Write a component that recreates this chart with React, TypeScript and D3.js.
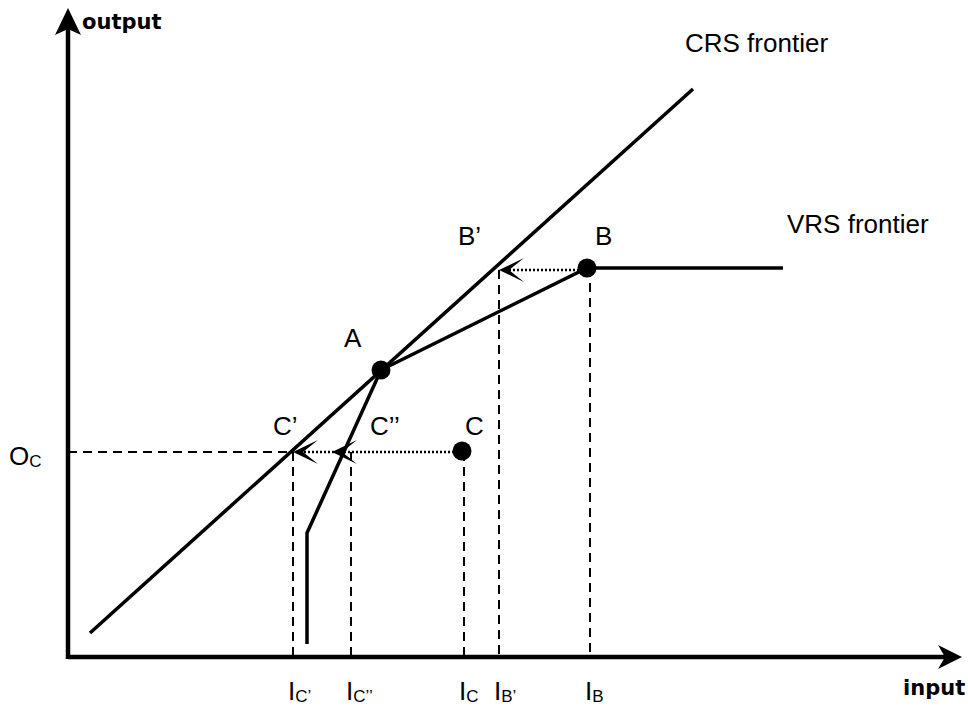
import React from 'react';
import * as d3 from 'd3';

type Pt = [number, number];

// frontier lines (input, output)
const crsFrontier: Pt[] = [[2.2, 2.4], [62.5, 56.8]];
const vrsFrontier: Pt[] = [[23.9, 1.3], [23.9, 12.4], [31.3, 28.7], [51.9, 38.9], [71.5, 38.9]];

// observed units
const unitNames = ['A', 'B', 'C'];
const unitInput = [31.3, 51.9, 39.4];
const unitOutput = [28.7, 38.9, 20.6];

// projection levels
const outputLevelC = 20.5;
const inputLevels = [22.5, 28.3, 39.6, 43.1, 52.2];
const inputLevelTops = [20.5, 20.5, 20.5, 38.7, 38.9];
const inputLevelNames = ['C’', 'C’’', 'C', 'B’', 'B'];

// projection arrows: [from x, to x, y]
const arrowFrom = [51.9, 39.4, 39.4];
const arrowTo = [43.1, 22.5, 26.4];
const arrowY = [38.7, 20.5, 20.5];

const width = 968;
const height = 708;
const sans = '"Liberation Sans", Arial, sans-serif';
const bold = '"DejaVu Sans", Verdana, sans-serif';

const App: React.FC = () => {
  const x = d3.scaleLinear().domain([0, 90]).range([68, 968]);
  const y = d3.scaleLinear().domain([0, 65]).range([657, 7]);

  const line = d3.line<Pt>()
    .x(d => x(d[0]))
    .y(d => y(d[1]));

  const x0 = x(0);
  const y0 = y(0);
  const xEnd = x(89.4);
  const yEnd = y(64.9);

  return (
    <svg width={width} height={height} style={{ position: 'absolute', left: 0, top: 0 }}>
      <rect width={width} height={height} fill="#fff" />

      {/* dashed guides */}
      <line x1={x0} x2={x(inputLevels[0])} y1={y(outputLevelC)} y2={y(outputLevelC)}
        stroke="#000" strokeWidth={2} strokeDasharray="9,6" />
      {inputLevels.map((v, i) => (
        <line key={i} x1={x(v)} x2={x(v)} y1={y(inputLevelTops[i])} y2={y0}
          stroke="#000" strokeWidth={2} strokeDasharray="9,6" />
      ))}

      {/* frontiers */}
      <path d={line(crsFrontier) || ''} fill="none" stroke="#000" strokeWidth={3.5} />
      <path d={line(vrsFrontier) || ''} fill="none" stroke="#000" strokeWidth={3.5} strokeLinejoin="miter" />

      {/* projection arrows */}
      {arrowFrom.map((v, i) => (
        <g key={i}>
          {i < 2 && (
            <line x1={x(v)} x2={x(arrowTo[i]) + 8} y1={y(arrowY[i])} y2={y(arrowY[i])}
              stroke="#000" strokeWidth={2.5} strokeDasharray="2,2" />
          )}
          <path transform={`translate(${x(arrowTo[i])},${y(arrowY[i])})`}
            d="M0,0L25,-12L10,0L25,12Z" fill="#000" />
        </g>
      ))}

      {/* units */}
      {unitNames.map((n, i) => (
        <circle key={n} cx={x(unitInput[i])} cy={y(unitOutput[i])} r={9.5} fill="#000" />
      ))}

      {/* axes */}
      <line x1={x0} x2={xEnd - 10} y1={y0} y2={y0} stroke="#000" strokeWidth={4.5} />
      <line x1={x0} x2={x0} y1={y0 + 2} y2={yEnd + 10} stroke="#000" strokeWidth={4.5} />
      <path transform={`translate(${xEnd},${y0})`} d="M0,0L-24,-12L-17,0L-24,12Z" fill="#000" />
      <path transform={`translate(${x0},${yEnd})`} d="M0,0L-13,27L0,21L13,27Z" fill="#000" />

      <text x={82} y={29} fontFamily={bold} fontWeight="bold" fontSize={21}>output</text>
      <text x={903} y={695} fontFamily={bold} fontWeight="bold" fontSize={21}>input</text>

      <g fontFamily={sans} fontSize={26}>
        <text x={685} y={52}>CRS frontier</text>
        <text x={787} y={233}>VRS frontier</text>
        <text x={458} y={245}>B’</text>
        <text x={595} y={245}>B</text>
        <text x={344} y={347}>A</text>
        <text x={273} y={435}>C’</text>
        <text x={370} y={435}>C’’</text>
        <text x={465} y={435}>C</text>
        <text x={9} y={465}>O<tspan fontSize={17} dy={2}>C</tspan></text>
        {inputLevels.map((v, i) => (
          <text key={i} x={x(v) - 5} y={700}>
            I<tspan fontSize={17} dy={2}>{inputLevelNames[i]}</tspan>
          </text>
        ))}
      </g>
    </svg>
  );
};

export default App;
